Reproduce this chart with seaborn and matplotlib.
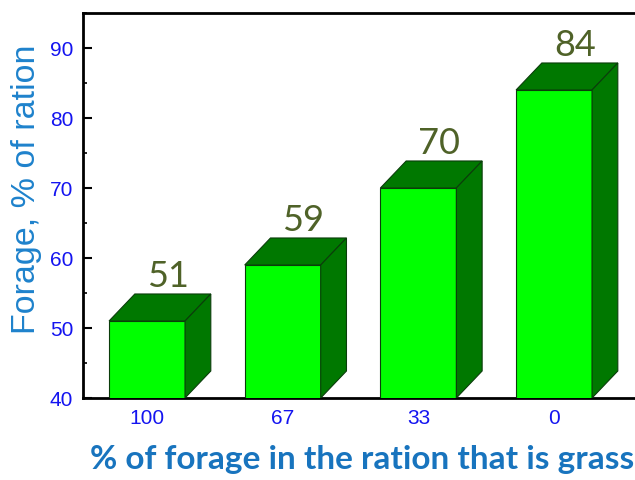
import matplotlib
matplotlib.use("Agg")
import matplotlib.pyplot as plt
from matplotlib.patches import Polygon
from matplotlib.ticker import MultipleLocator
import seaborn as sns
import pandas as pd

categories = ["100", "67", "33", "0"]
values = [51, 59, 70, 84]

sns.set_style("white")
plt.rcParams["font.family"] = ["Liberation Sans", "DejaVu Sans"]

df = pd.DataFrame({"grass": categories, "forage": values})

fig = plt.figure(figsize=(6.35, 4.8), dpi=100)
ax = fig.add_axes([83 / 635, 82 / 480, 552 / 635, 385 / 480])

front = "#00FF00"
dark = "#007800"
edge = "#0B3D0B"

sns.barplot(data=df, x="grass", y="forage", order=categories, color=front,
            saturation=1, width=0.56, edgecolor=edge, linewidth=0.8, ax=ax, zorder=3)

ymin, ymax = 40, 95
ax.set_ylim(ymin, ymax)
ax.set_xlim(-0.472, -0.472 + 552 / 135.67)

dx, dy = 0.19, 3.86
for p in ax.patches[:len(values)]:
    x0 = p.get_x()
    x1 = x0 + p.get_width()
    h = p.get_height()
    top = Polygon([(x0, h), (x0 + dx, h + dy), (x1 + dx, h + dy), (x1, h)],
                  closed=True, facecolor=dark, edgecolor=edge, linewidth=0.8, zorder=3)
    side = Polygon([(x1, ymin), (x1 + dx, ymin + dy), (x1 + dx, h + dy), (x1, h)],
                   closed=True, facecolor=dark, edgecolor=edge, linewidth=0.8, zorder=3)
    ax.add_patch(top)
    ax.add_patch(side)
    ax.text(p.get_x() + p.get_width() / 2 + dx * 0.8, h + dy + 0.1, f"{h:.0f}",
            ha="center", va="bottom", fontsize=26, color="#4F6228",
            family=["Lato", "DejaVu Sans"], zorder=4)

ax.yaxis.set_major_locator(MultipleLocator(10))
ax.yaxis.set_minor_locator(MultipleLocator(5))
ax.tick_params(axis="y", which="major", direction="in", length=6.5, width=1.5,
               labelsize=15, labelcolor="#1414F0", color="black", pad=7, left=True)
ax.tick_params(axis="y", which="minor", direction="in", length=3.2, width=1.2,
               color="black", left=True)
ax.tick_params(axis="x", which="major", direction="in", length=5.5, width=1.5,
               labelsize=15, labelcolor="#1414F0", color="black", pad=8, bottom=True)

for s in ["left", "bottom", "top"]:
    ax.spines[s].set_visible(True)
    ax.spines[s].set_color("black")
    ax.spines[s].set_linewidth(2)
ax.spines["right"].set_visible(False)

ax.set_ylabel("Forage, % of ration", fontsize=24.5, color="#1E82CC")
ax.yaxis.set_label_coords(-0.074, 0.543)
ax.set_xlabel("% of forage in the ration that is grass", fontsize=24,
              color="#1874BE", fontweight="bold", family=["Lato", "DejaVu Sans"])
ax.xaxis.set_label_coords(0.506, -0.122)

fig.savefig("out.png", dpi=100)
